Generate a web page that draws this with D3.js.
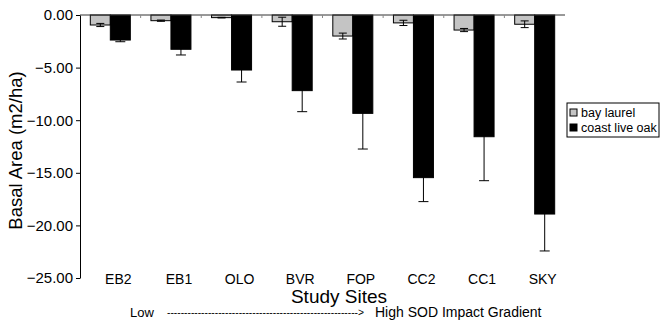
<!DOCTYPE html>
<html>
<head>
<meta charset="utf-8">
<script src="https://cdn.jsdelivr.net/npm/d3@7/dist/d3.min.js"></script>
<style>
  body { margin: 0; background: #fff; }
  text { font-family: "Liberation Sans", Arial, sans-serif; fill: #000; }
</style>
</head>
<body>
<div id="chart"></div>
<script>
// Data
const sites = ['EB2', 'EB1', 'OLO', 'BVR', 'FOP', 'CC2', 'CC1', 'SKY'];
const seriesNames = ['bay laurel', 'coast live oak'];
const bayLaurel = [-0.95, -0.54, -0.25, -0.64, -2.0, -0.75, -1.43, -0.88];
const bayLaurelErr = [0.15, 0.06, 0.03, 0.43, 0.28, 0.25, 0.15, 0.32];
const coastLiveOak = [-2.38, -3.26, -5.23, -7.19, -9.35, -15.46, -11.57, -18.92];
const coastLiveOakErr = [0.16, 0.54, 1.14, 2.0, 3.39, 2.28, 4.18, 3.51];
const yTicks = [0, -5, -10, -15, -20, -25];

const width = 660;
const height = 322;
const margin = { top: 15, right: 95, bottom: 44, left: 80 };
const plotW = width - margin.left - margin.right;
const plotH = height - margin.top - margin.bottom;

const svg = d3.select('#chart')
  .append('svg')
  .attr('width', width)
  .attr('height', height)
  .append('g')
  .attr('transform', `translate(${margin.left},${margin.top})`);

// Scales
const x0 = d3.scaleBand()
  .domain(sites)
  .range([0, plotW])
  .paddingInner(0.34)
  .paddingOuter(0.17);

const x1 = d3.scaleBand()
  .domain(seriesNames)
  .range([0, x0.bandwidth()]);

const y = d3.scaleLinear()
  .domain([-25, 0])
  .range([plotH, 0]);

const colors = { 'bay laurel': '#c4c4c4', 'coast live oak': '#000' };

// Build rows from the arrays
const rows = sites.map((s, i) => ({
  site: s,
  values: [
    { name: seriesNames[0], value: bayLaurel[i], err: bayLaurelErr[i] },
    { name: seriesNames[1], value: coastLiveOak[i], err: coastLiveOakErr[i] }
  ]
}));

// Bars
const groups = svg.selectAll('.group')
  .data(rows)
  .enter()
  .append('g')
  .attr('class', 'group')
  .attr('transform', d => `translate(${x0(d.site)},0)`);

groups.selectAll('rect')
  .data(d => d.values)
  .enter()
  .append('rect')
  .attr('x', d => x1(d.name))
  .attr('y', y(0))
  .attr('width', x1.bandwidth())
  .attr('height', d => y(d.value) - y(0))
  .attr('fill', d => colors[d.name])
  .attr('stroke', '#000')
  .attr('stroke-width', 1);

// Error bars
const errBars = groups.selectAll('.err')
  .data(d => d.values)
  .enter()
  .append('g')
  .attr('class', 'err')
  .attr('transform', d => `translate(${x1(d.name) + x1.bandwidth() / 2},0)`);

errBars.append('line')
  .attr('y1', d => y(d.value + d.err))
  .attr('y2', d => y(d.value - d.err))
  .attr('stroke', '#000');

errBars.append('line')
  .attr('x1', d => d.name === seriesNames[0] ? -4 : -5)
  .attr('x2', d => d.name === seriesNames[0] ? 4 : 5)
  .attr('y1', d => y(d.value - d.err))
  .attr('y2', d => y(d.value - d.err))
  .attr('stroke', '#000');

errBars.filter(d => d.name === seriesNames[0]).append('line')
  .attr('x1', -4)
  .attr('x2', 4)
  .attr('y1', d => y(d.value + d.err))
  .attr('y2', d => y(d.value + d.err))
  .attr('stroke', '#000');

// Zero line along the top
svg.append('line')
  .attr('x1', 0)
  .attr('x2', plotW)
  .attr('y1', y(0))
  .attr('y2', y(0))
  .attr('stroke', '#333');

// Small ticks at the category boundaries
svg.selectAll('.cat-tick')
  .data(sites.slice(1))
  .enter()
  .append('line')
  .attr('x1', d => x0(d) - x0.step() * x0.paddingInner() / 2)
  .attr('x2', d => x0(d) - x0.step() * x0.paddingInner() / 2)
  .attr('y1', y(0))
  .attr('y2', y(0) + 3)
  .attr('stroke', '#888');

// Y axis
const yAxis = svg.append('g')
  .call(d3.axisLeft(y).tickValues(yTicks).tickFormat(d3.format('.2f')).tickSize(4).tickSizeOuter(0));
yAxis.select('.domain').attr('stroke', '#000');
yAxis.selectAll('text')
  .style('font-size', '15px')
  .attr('x', -7);

// Category labels along the bottom
const xAxis = svg.append('g')
  .attr('transform', `translate(8,${plotH - 7})`)
  .call(d3.axisBottom(x0).tickSize(0));
xAxis.select('.domain').remove();
xAxis.selectAll('text')
  .style('font-size', '14px');

// Axis titles
svg.append('text')
  .attr('transform', `translate(${-margin.left + 16},${plotH / 2 + 4}) rotate(-90)`)
  .attr('text-anchor', 'middle')
  .attr('dy', '0.35em')
  .style('font-size', '18.5px')
  .text('Basal Area (m2/ha)');

svg.append('text')
  .attr('x', 259)
  .attr('y', plotH + 25)
  .attr('text-anchor', 'middle')
  .style('font-size', '19px')
  .text('Study Sites');

svg.append('text')
  .attr('x', 50)
  .attr('y', plotH + 39)
  .style('font-size', '13px')
  .text('Low');

svg.append('text')
  .attr('x', 87)
  .attr('y', plotH + 38)
  .style('font-size', '10px')
  .attr('textLength', 197)
  .attr('lengthAdjust', 'spacingAndGlyphs')
  .text('-'.repeat(56) + '>');

svg.append('text')
  .attr('x', 295)
  .attr('y', plotH + 39)
  .style('font-size', '14px')
  .text('High SOD Impact Gradient');

// Legend
const legend = svg.append('g')
  .attr('transform', `translate(${plotW + 2}, 88)`);

legend.append('rect')
  .attr('width', 92)
  .attr('height', 34)
  .attr('fill', '#fff')
  .attr('stroke', '#000');

seriesNames.forEach((name, i) => {
  legend.append('rect')
    .attr('x', 3)
    .attr('y', 6 + i * 15)
    .attr('width', 7)
    .attr('height', 7)
    .attr('fill', colors[name])
    .attr('stroke', '#000');
  legend.append('text')
    .attr('x', 14)
    .attr('y', 10 + i * 15)
    .attr('dy', '0.35em')
    .style('font-size', '12.5px')
    .text(name);
});
</script>
</body>
</html>
